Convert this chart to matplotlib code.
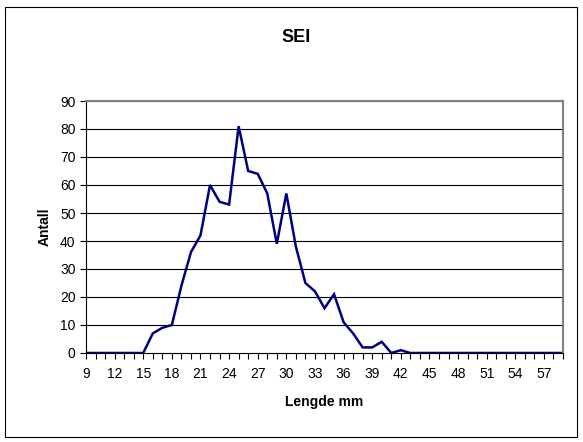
import matplotlib
matplotlib.use("Agg")
import matplotlib.pyplot as plt
from matplotlib.patches import Rectangle

plt.rcParams['font.family'] = ['Liberation Sans', 'DejaVu Sans']

## data
lengths = list(range(9, 60))
counts = [0, 0, 0, 0, 0, 0, 0,          # 9-15
          7, 9, 10, 24, 36, 42, 60,     # 16-22
          54, 53, 81, 65, 64, 57, 39,   # 23-29
          57, 38, 25, 22, 16, 21, 11,   # 30-36
          7, 2, 2, 4, 0, 1] + [0] * 17  # 37-59
y_ticks = list(range(0, 91, 10))
x_labels = list(range(9, 58, 3))

fig = plt.figure(figsize=(5.83, 4.42), dpi=100)

# outer chart border
fig.patches.append(Rectangle((5 / 583, 5 / 442), 572 / 583, 430 / 442,
                             transform=fig.transFigure, fill=False,
                             edgecolor='black', linewidth=0.8))

ax = fig.add_axes([86 / 583, 1 - 353 / 442, 477 / 583, 252 / 442])

ax.plot(lengths, counts, color='#000080', linewidth=1.8, solid_joinstyle='miter')

ax.set_xlim(lengths[0], lengths[-1])
ax.set_ylim(0, 90)
ax.set_yticks(y_ticks)
ax.set_xticks(lengths, minor=True)
ax.set_xticks(x_labels)
ax.set_xticklabels([str(v) for v in x_labels])

for v in y_ticks[1:]:
    ax.axhline(v, color='black', linewidth=0.8, zorder=0)

for side in ['top', 'right']:
    ax.spines[side].set_color('#808080')
    ax.spines[side].set_linewidth(1.5)
for side in ['left', 'bottom']:
    ax.spines[side].set_color('black')
    ax.spines[side].set_linewidth(0.8)

ax.tick_params(axis='both', which='both', direction='out', length=4, width=0.8,
               labelsize=10, colors='black')
ax.tick_params(axis='x', which='major', pad=6)

ax.set_xlabel('Lengde mm', fontsize=10, fontweight='bold', labelpad=10)
ax.set_ylabel('Antall', fontsize=10, fontweight='bold', labelpad=6)
fig.text(296 / 583, 1 - 38 / 442, 'SEI', ha='center', va='center',
         fontsize=13, fontweight='bold')

fig.savefig('out.png', dpi=100)
